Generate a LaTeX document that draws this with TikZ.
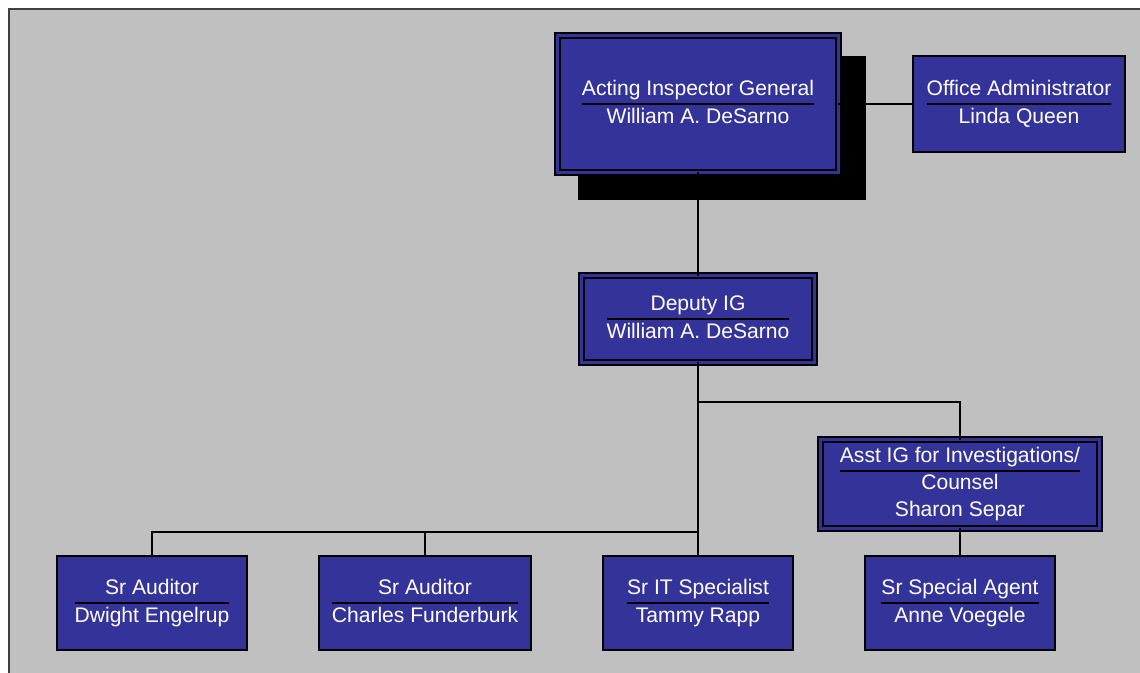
\documentclass[tikz,border=0pt]{standalone}
\usepackage{fontspec}
\setmainfont{Liberation Sans}
\usepackage{array}
\usepackage{tikz}
\usetikzlibrary{shadows}

\definecolor{chartgray}{HTML}{C0C0C0}
\definecolor{boxblue}{HTML}{333399}
\setlength{\arrayrulewidth}{0.8pt}
\newcommand{\post}[2]{\begin{tabular}{@{}>{\color{white}}c@{}}#1\\\hline #2\end{tabular}}

\begin{document}
\begin{tikzpicture}
	[x=0.02cm,y=-0.02cm,inner sep=0pt,outer sep=0pt,
		font=\fontsize{12}{15}\selectfont,
		post node/.style={rectangle,draw=black,fill=boxblue,line width=0.8pt,minimum height=1.88cm},
		lead node/.style={rectangle,draw=black,fill=boxblue,line width=0.8pt,double=boxblue,double distance=2.1pt},
		wire/.style={draw=black,line width=0.8pt}]

	% frame
	\useasboundingbox (0,0) rectangle (1140,673);
	\fill[white] (0,0) rectangle (1140,673);
	\fill[chartgray] (9,9) rectangle (1140,673);
	\draw[black!75,line width=1.3pt] (9,673) -- (9,9) -- (1140,9);

	\node[lead node, minimum width=5.62cm, minimum height=2.74cm,
		drop shadow={shadow xshift=0.48cm,shadow yshift=-0.48cm,fill=black,draw=black,line width=3.7pt,opacity=1}]
		(ig)    at (698,104)  {\post{Acting Inspector General}{William A. DeSarno}};
	\node[post node, minimum width=4.24cm, minimum height=1.92cm]
		(adm)   at (1019,104) {\post{Office Administrator}{Linda Queen}};
	\node[lead node, minimum width=4.66cm, minimum height=1.74cm]
		(dep)   at (698,319)  {\post{Deputy IG}{William A. DeSarno}};
	\node[lead node, minimum width=5.58cm, minimum height=1.78cm]
		(asst)  at (960,484)  {\post{Asst IG for Investigations/}{Counsel\\Sharon Separ}};

	\node[post node, minimum width=3.80cm] (dw)  at (152,603) {\post{Sr Auditor}{Dwight Engelrup}};
	\node[post node, minimum width=4.24cm] (ch)  at (425,603) {\post{Sr Auditor}{Charles Funderburk}};
	\node[post node, minimum width=3.80cm] (tam) at (698,603) {\post{Sr IT Specialist}{Tammy Rapp}};
	\node[post node, minimum width=3.80cm] (agt) at (960,603) {\post{Sr Special Agent}{Anne Voegele}};

	\coordinate (split) at (698,402);
	\coordinate (bus)   at (698,532);

	\path[wire]
	(ig)  edge (dep)
	edge (adm)
	(dep) edge (tam)
	(asst) edge (agt);

	\draw[wire] (split) -| (asst.north);
	\draw[wire] (bus) -| (dw.north);
	\draw[wire] (bus -| ch.north) -- (ch.north);

\end{tikzpicture}
\end{document}
